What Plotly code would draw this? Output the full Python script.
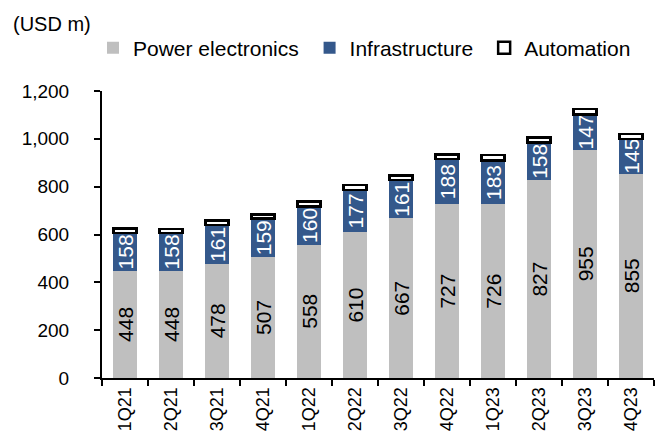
import plotly.graph_objects as go

quarters = ["1Q21", "2Q21", "3Q21", "4Q21", "1Q22", "2Q22", "3Q22", "4Q22",
            "1Q23", "2Q23", "3Q23", "4Q23"]
power_electronics = [448, 448, 478, 507, 558, 610, 667, 727, 726, 827, 955, 855]
infrastructure = [158, 158, 161, 159, 160, 177, 161, 188, 183, 158, 147, 145]
automation = [19, 18, 19, 18, 19, 19, 19, 20, 24, 20, 22, 20]
y_ticks = [0, 200, 400, 600, 800, 1000, 1200]

FONT = "Liberation Sans, Arial, sans-serif"
GRAY = "#BFBFBF"
BLUE = "#34588B"
NB = "\u00a0"

fig = go.Figure()
fig.add_trace(go.Bar(
    x=quarters, y=power_electronics, name="Power electronics" + NB,
    marker=dict(color=GRAY, line=dict(width=0)),
    text=[str(v) for v in power_electronics], textposition="inside",
    insidetextanchor="middle", textangle=-90,
    textfont=dict(family=FONT, size=21, color="black"),
))
fig.add_trace(go.Bar(
    x=quarters, y=infrastructure, name="Infrastructure" + NB,
    marker=dict(color=BLUE, line=dict(width=0)),
    text=[str(v) for v in infrastructure], textposition="inside",
    insidetextanchor="middle", textangle=-90,
    textfont=dict(family=FONT, size=21, color="white"),
))
fig.add_trace(go.Bar(
    x=quarters, y=automation, name="Automation",
    marker=dict(color="white", line=dict(color="black", width=2.5)),
))

# page body has an 8px margin: figure coordinates = screen coordinates - 8
OFF = 8
W, H = 663 - 2 * OFF, 441 - 2 * OFF
L = 102 - OFF
T = 91 - OFF
R = W - (654 - OFF)
B = H - (378 - OFF)
pw = W - L - R
ph = H - T - B

fig.update_layout(
    width=W, height=H,
    barmode="stack", bargap=0.49,
    margin=dict(l=L, r=R, t=T, b=B, autoexpand=False),
    paper_bgcolor="white", plot_bgcolor="white",
    font=dict(family=FONT, size=21, color="black"),
    separators=".,",
    uniformtext=dict(minsize=21, mode="show"),
    showlegend=True,
    legend=dict(
        orientation="h", x=(85 - L) / pw, xanchor="left",
        y=(H - B - 40) / ph, yanchor="middle",
        font=dict(family=FONT, size=21, color="black"),
        bgcolor="rgba(0,0,0,0)", traceorder="normal",
    ),
    xaxis=dict(
        type="category", showline=True, linecolor="black", linewidth=2,
        ticks="outside", tickson="boundaries", ticklen=6, tickwidth=2,
        tickcolor="black", tickangle=-90, showgrid=False, automargin=False,
        ticklabelstandoff=0,
        tickfont=dict(family=FONT, size=18, color="black"),
    ),
    yaxis=dict(
        range=[0, 1200], tickvals=y_ticks, tickformat=",d",
        showline=True, linecolor="black", linewidth=2, automargin=False,
        ticks="outside", ticklen=6, tickwidth=2, tickcolor="black",
        showgrid=False, zeroline=False, ticklabelstandoff=21,
        tickfont=dict(family=FONT, size=19, color="black"),
    ),
    annotations=[dict(
        text="(USD m)", xref="paper", yref="paper",
        x=(3 - L) / pw, y=(H - B - 16) / ph,
        xanchor="left", yanchor="middle", showarrow=False,
        font=dict(family=FONT, size=20, color="black"),
    )],
)

fig.write_html("out.html")
